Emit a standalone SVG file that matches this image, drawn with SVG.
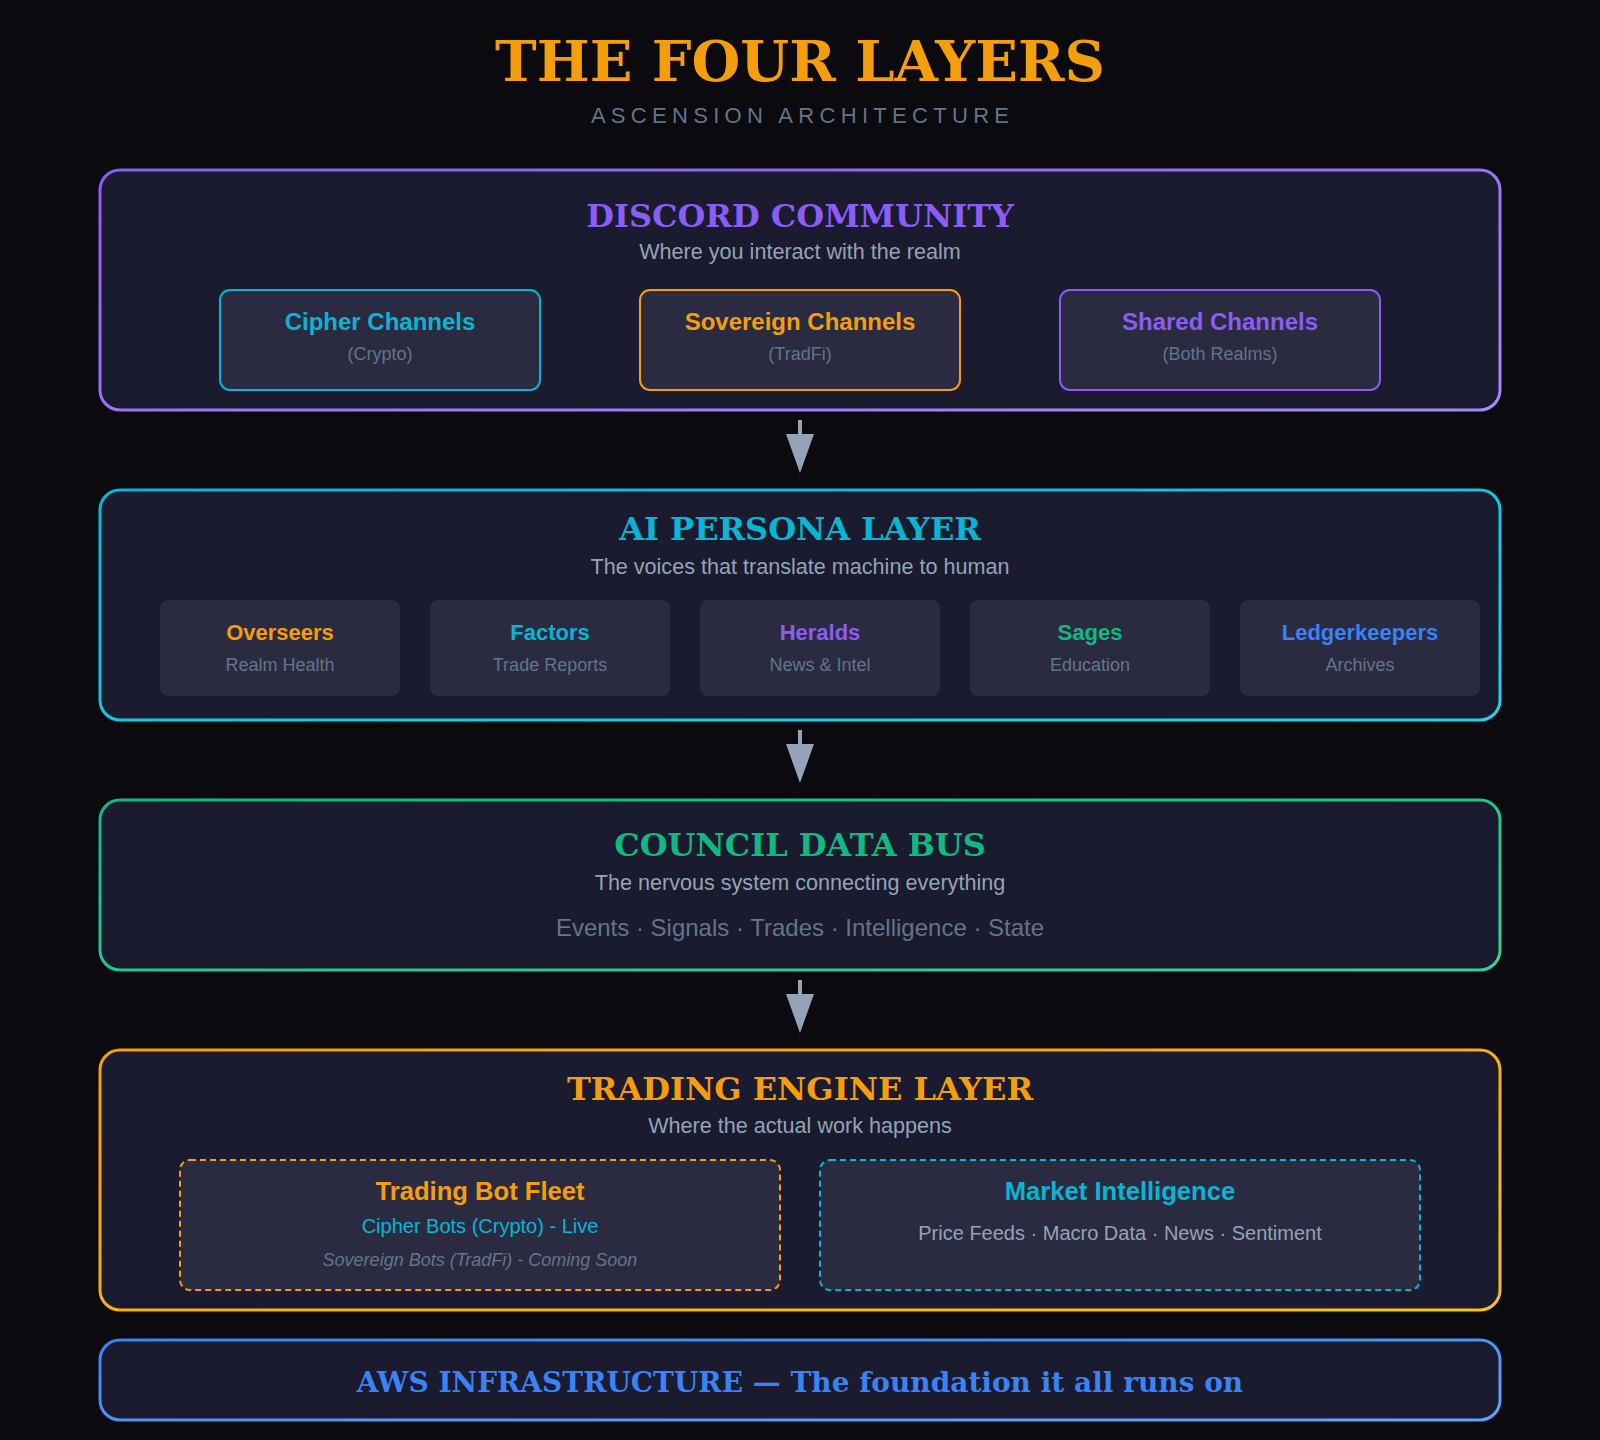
<svg xmlns="http://www.w3.org/2000/svg" width="1600" height="1440" viewBox="0 0 1600 1440">
<defs>
<pattern id="grid" width="80" height="80" patternUnits="userSpaceOnUse">
<path d="M80 0V80M0 80H80" fill="none" stroke="#ffffff" stroke-opacity="0.018" stroke-width="1"/>
</pattern>
<linearGradient id="gPurple" x1="0" y1="0" x2="1" y2="1"><stop offset="0" stop-color="#8b5cf6"/><stop offset="1" stop-color="#a78bfa"/></linearGradient>
<linearGradient id="gCyan" x1="0" y1="0" x2="1" y2="1"><stop offset="0" stop-color="#06b6d4"/><stop offset="1" stop-color="#22d3ee"/></linearGradient>
<linearGradient id="gGreen" x1="0" y1="0" x2="1" y2="1"><stop offset="0" stop-color="#10b981"/><stop offset="1" stop-color="#34d399"/></linearGradient>
<linearGradient id="gOrange" x1="0" y1="0" x2="1" y2="1"><stop offset="0" stop-color="#f59e0b"/><stop offset="1" stop-color="#fbbf24"/></linearGradient>
<linearGradient id="gBlue" x1="0" y1="0" x2="1" y2="1"><stop offset="0" stop-color="#3b82f6"/><stop offset="1" stop-color="#60a5fa"/></linearGradient>
<marker id="arrow" viewBox="0 0 39 28" refX="0" refY="14" markerWidth="39" markerHeight="28" markerUnits="userSpaceOnUse" orient="auto">
<path d="M0 0L39 14L0 28Z" fill="#94a3b8"/>
</marker>
</defs>
<style>
.serif{font-family:"DejaVu Serif","Liberation Serif",serif;font-weight:bold}
.sans{font-family:"Liberation Sans",Arial,sans-serif}
.layer{fill:#1a1b2e;stroke-width:3}
.card{fill:#2a2b40}
.ltitle{font-size:32px;text-anchor:middle}
.lsub{font-size:21.6px;fill:#94a3b8;text-anchor:middle}
.ctitle{font-size:24px;font-weight:bold;text-anchor:middle}
.csub{font-size:18px;fill:#64748b;text-anchor:middle}
.ptitle{font-size:22px;font-weight:bold;text-anchor:middle}
.conn{stroke:#94a3b8;stroke-width:4;fill:none}
</style>
<rect width="1600" height="1440" fill="#0a0a0f"/>
<rect width="1600" height="1440" fill="url(#grid)"/>

<g id="header">
<text class="serif" x="800" y="81" font-size="56" fill="#f59e0b" text-anchor="middle">THE FOUR LAYERS</text>
<text class="sans" x="802.6" y="123" font-size="22" fill="#64748b" text-anchor="middle" letter-spacing="5.3">ASCENSION ARCHITECTURE</text>
</g>

<g id="discord">
<rect class="layer" x="100" y="170" width="1400" height="240" rx="20" stroke="url(#gPurple)"/>
<text class="serif ltitle" x="800" y="227" fill="#8b5cf6">DISCORD COMMUNITY</text>
<text class="sans lsub" x="800" y="259">Where you interact with the realm</text>
</g>
<g id="cipher-channels">
<rect class="card" x="220" y="290" width="320" height="100" rx="10" stroke="#06b6d4" stroke-width="2"/>
<text class="sans ctitle" x="380" y="330" fill="#06b6d4">Cipher Channels</text>
<text class="sans csub" x="380" y="360">(Crypto)</text>
</g>
<g id="sovereign-channels">
<rect class="card" x="640" y="290" width="320" height="100" rx="10" stroke="#f59e0b" stroke-width="2"/>
<text class="sans ctitle" x="800" y="330" fill="#f59e0b">Sovereign Channels</text>
<text class="sans csub" x="800" y="360">(TradFi)</text>
</g>
<g id="shared-channels">
<rect class="card" x="1060" y="290" width="320" height="100" rx="10" stroke="#8b5cf6" stroke-width="2"/>
<text class="sans ctitle" x="1220" y="330" fill="#8b5cf6">Shared Channels</text>
<text class="sans csub" x="1220" y="360">(Both Realms)</text>
</g>

<g id="persona">
<rect class="layer" x="100" y="490" width="1400" height="230" rx="20" stroke="url(#gCyan)"/>
<text class="serif ltitle" x="800" y="540" fill="#06b6d4">AI PERSONA LAYER</text>
<text class="sans lsub" x="800" y="574">The voices that translate machine to human</text>
</g>
<g id="overseers">
<rect class="card" x="160" y="600" width="240" height="96" rx="8"/>
<text class="sans ptitle" x="280" y="640" fill="#f59e0b">Overseers</text>
<text class="sans csub" x="280" y="671">Realm Health</text>
</g>
<g id="factors">
<rect class="card" x="430" y="600" width="240" height="96" rx="8"/>
<text class="sans ptitle" x="550" y="640" fill="#06b6d4">Factors</text>
<text class="sans csub" x="550" y="671">Trade Reports</text>
</g>
<g id="heralds">
<rect class="card" x="700" y="600" width="240" height="96" rx="8"/>
<text class="sans ptitle" x="820" y="640" fill="#8b5cf6">Heralds</text>
<text class="sans csub" x="820" y="671">News &amp; Intel</text>
</g>
<g id="sages">
<rect class="card" x="970" y="600" width="240" height="96" rx="8"/>
<text class="sans ptitle" x="1090" y="640" fill="#10b981">Sages</text>
<text class="sans csub" x="1090" y="671">Education</text>
</g>
<g id="ledgerkeepers">
<rect class="card" x="1240" y="600" width="240" height="96" rx="8"/>
<text class="sans ptitle" x="1360" y="640" fill="#3b82f6">Ledgerkeepers</text>
<text class="sans csub" x="1360" y="671">Archives</text>
</g>

<g id="council">
<rect class="layer" x="100" y="800" width="1400" height="170" rx="20" stroke="url(#gGreen)"/>
<text class="serif ltitle" x="800" y="856" fill="#10b981">COUNCIL DATA BUS</text>
<text class="sans lsub" x="800" y="890">The nervous system connecting everything</text>
<text class="sans" x="800" y="936" font-size="24" fill="#64748b" text-anchor="middle">Events · Signals · Trades · Intelligence · State</text>
</g>

<g id="trading">
<rect class="layer" x="100" y="1050" width="1400" height="260" rx="20" stroke="url(#gOrange)"/>
<text class="serif ltitle" x="800" y="1100" fill="#f59e0b">TRADING ENGINE LAYER</text>
<text class="sans lsub" x="800" y="1133">Where the actual work happens</text>
</g>
<g id="bot-fleet">
<rect class="card" x="180" y="1160" width="600" height="130" rx="10" stroke="#f59e0b" stroke-width="2" stroke-dasharray="6 4"/>
<text class="sans" x="480" y="1200" font-size="25.6" font-weight="bold" fill="#f59e0b" text-anchor="middle">Trading Bot Fleet</text>
<text class="sans" x="480" y="1233" font-size="20" fill="#06b6d4" text-anchor="middle">Cipher Bots (Crypto) - Live</text>
<text class="sans" x="480" y="1266" font-size="18" font-style="italic" fill="#64748b" text-anchor="middle">Sovereign Bots (TradFi) - Coming Soon</text>
</g>
<g id="market-intel">
<rect class="card" x="820" y="1160" width="600" height="130" rx="10" stroke="#06b6d4" stroke-width="2" stroke-dasharray="6 4"/>
<text class="sans" x="1120" y="1200" font-size="25.6" font-weight="bold" fill="#06b6d4" text-anchor="middle">Market Intelligence</text>
<text class="sans" x="1120" y="1240" font-size="20" fill="#94a3b8" text-anchor="middle">Price Feeds · Macro Data · News · Sentiment</text>
</g>

<g id="aws">
<rect class="layer" x="100" y="1340" width="1400" height="80" rx="20" stroke="url(#gBlue)"/>
<text class="serif" x="800" y="1392" font-size="28" fill="#3b82f6" text-anchor="middle">AWS INFRASTRUCTURE — The foundation it all runs on</text>
</g>

<g id="connectors">
<line class="conn" x1="800" y1="420" x2="800" y2="434" marker-end="url(#arrow)"/>
<line class="conn" x1="800" y1="730" x2="800" y2="744" marker-end="url(#arrow)"/>
<line class="conn" x1="800" y1="980" x2="800" y2="994" marker-end="url(#arrow)"/>
</g>
</svg>
